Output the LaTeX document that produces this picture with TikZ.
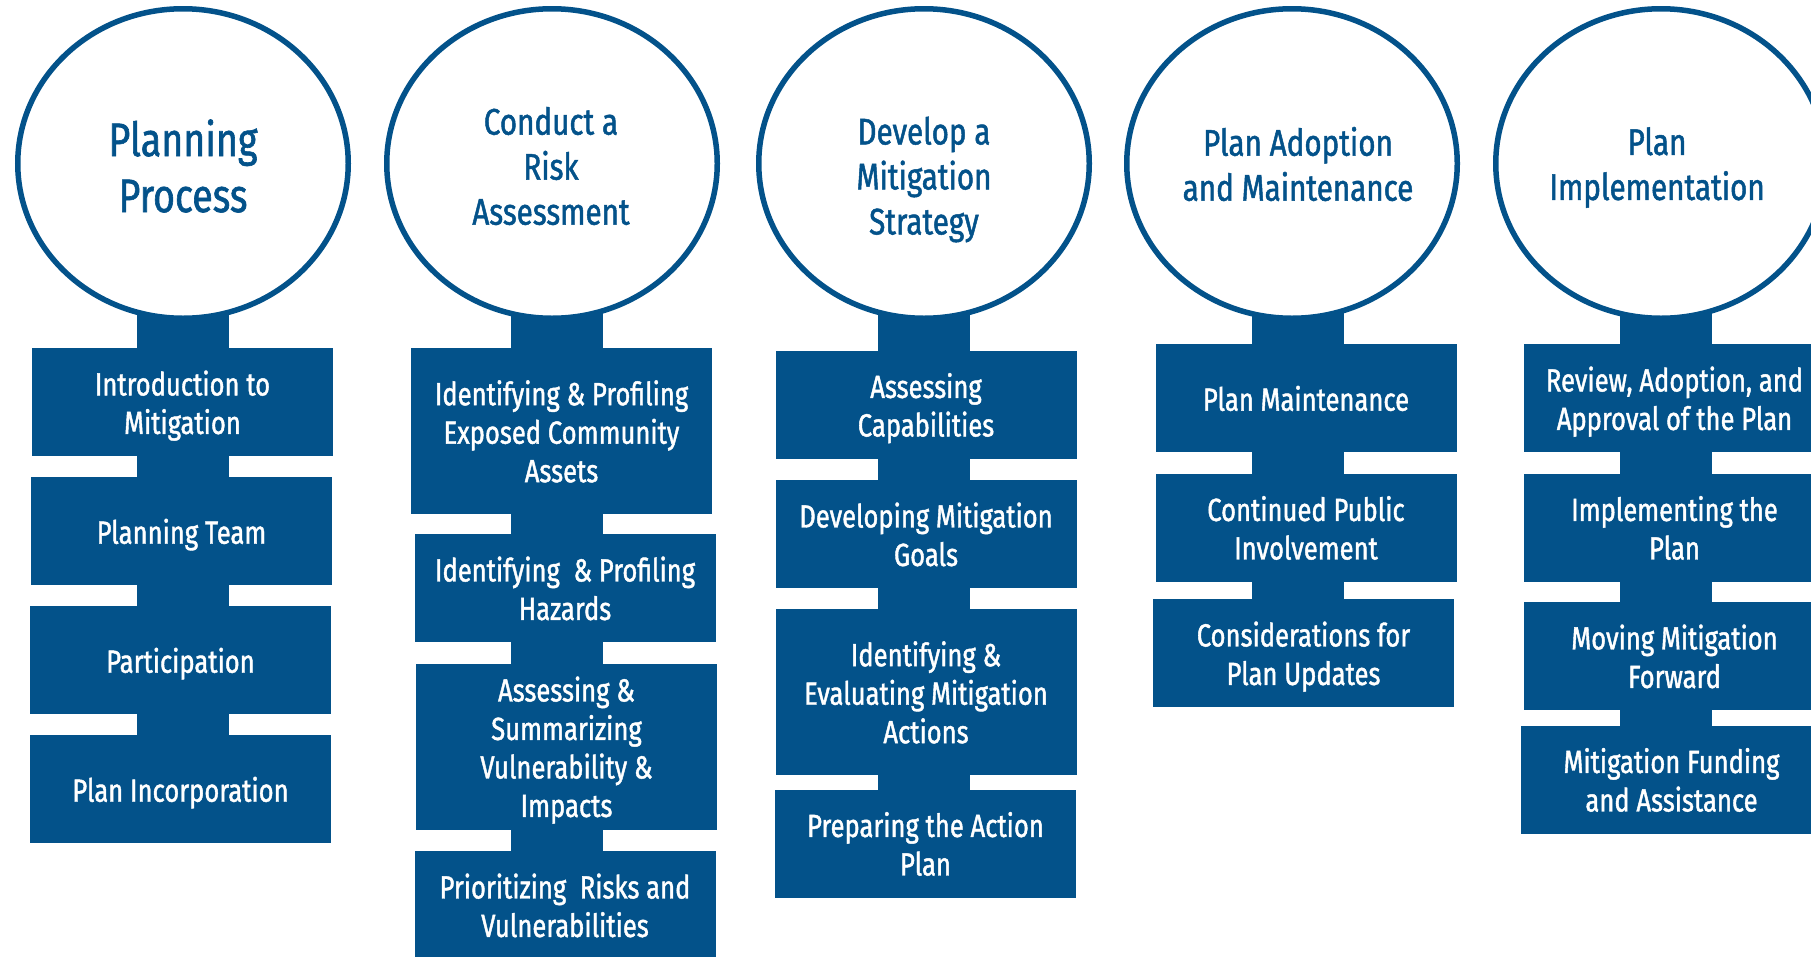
\documentclass[tikz,border=0pt]{standalone}
\usepackage{fontspec}
\setmainfont{Fira Sans}[FakeStretch=0.80,FakeBold=1.3]
\usetikzlibrary{shapes.geometric,backgrounds}
\definecolor{navy}{HTML}{03528A}
\newcommand{\boxtxt}[1]{\raisebox{-5pt}[\height][\depth]{\begin{tabular}{@{}c@{}}#1\end{tabular}}}
\begin{document}
\begin{tikzpicture}[x=1pt,y=-1pt,
  phase/.style={ellipse,draw=navy,line width=5.5pt,fill=white,minimum width=330.5pt,minimum height=309.5pt,inner sep=0pt},
  title/.style={text=navy,align=center,font=\fontsize{37}{45}\selectfont,inner sep=0pt},
  bigtitle/.style={text=navy,align=center,font=\fontsize{47}{56}\selectfont,inner sep=0pt},
  stepbox/.style={fill=navy,text=white,minimum width=301pt,minimum height=108pt,inner sep=0pt,font=\fontsize{32}{38.5}\selectfont},
  tallbox/.style={stepbox,minimum height=166pt},
  stem/.style={draw=navy,line width=92pt}]
\useasboundingbox (0,0) rectangle (1811,956);
\clip (0,0) rectangle (1811,956);
% ellipses
\node[phase] (c1) at (183,163.5) {};
\node[phase] (c2) at (552,163.5) {};
\node[phase] (c3) at (924,163.5) {};
\node[phase] (c4) at (1292,163.5) {};
\node[phase] (c5) at (1661,163.5) {};
\node[bigtitle] (t1) at (183,166) {Planning\\Process};
\node[title] (t2) at (551,166) {Conduct a\\Risk\\Assessment};
\node[title] (t3) at (924,179.5) {Develop a\\Mitigation\\Strategy};
\node[title] (t4) at (1298,164) {Plan Adoption\\and Maintenance};
\node[title] (t5) at (1657,167.5) {Plan\\Implementation};
% column 1
\node[stepbox] (b11) at (182.5,402) {\boxtxt{Introduction to\\Mitigation}};
\node[stepbox] (b12) at (181.5,531) {\boxtxt{Planning Team}};
\node[stepbox] (b13) at (180.5,660) {\boxtxt{Participation}};
\node[stepbox] (b14) at (180.5,789) {\boxtxt{Plan Incorporation}};
% column 2
\node[tallbox] (b21) at (561.5,431) {\boxtxt{Identifying \& Profiling\\Exposed Community\\Assets}};
\node[stepbox] (b22) at (565,588) {\boxtxt{Identifying\ \ \& Profiling\\Hazards}};
\node[tallbox] (b23) at (566.5,746.5) {\boxtxt{Assessing \&\\Summarizing\\Vulnerability \&\\Impacts}};
\node[stepbox] (b24) at (565,905) {\boxtxt{Prioritizing\ \ Risks and\\Vulnerabilities}};
% column 3
\node[stepbox] (b31) at (926,404.5) {\boxtxt{Assessing\\Capabilities}};
\node[stepbox] (b32) at (926,534) {\boxtxt{Developing Mitigation\\Goals}};
\node[tallbox] (b33) at (926,692) {\boxtxt{Identifying \&\\Evaluating Mitigation\\Actions}};
\node[stepbox] (b34) at (925.5,843.5) {\boxtxt{Preparing the Action\\Plan}};
% column 4
\node[stepbox] (b41) at (1306,398) {\boxtxt{Plan Maintenance}};
\node[stepbox] (b42) at (1306,527.5) {\boxtxt{Continued Public\\Involvement}};
\node[stepbox] (b43) at (1303.5,653) {\boxtxt{Considerations for\\Plan Updates}};
% column 5
\node[stepbox] (b51) at (1674.5,398) {\boxtxt{Review, Adoption, and\\Approval of the Plan}};
\node[stepbox] (b52) at (1674.5,527.5) {\boxtxt{Implementing the\\Plan}};
\node[stepbox] (b53) at (1674.5,656) {\boxtxt{Moving Mitigation\\Forward}};
\node[stepbox] (b54) at (1671.5,779.5) {\boxtxt{Mitigation Funding\\and Assistance}};
% stems
\begin{scope}[on background layer]
\draw[stem] (c1.center) -- (c1.center |- b14.center);
\draw[stem] ([xshift=5pt]c2.center) -- ([xshift=5pt]c2.center |- b24.center);
\draw[stem] (c3.center) -- (c3.center |- b34.center);
\draw[stem] ([xshift=6pt]c4.center) -- ([xshift=6pt]c4.center |- b43.center);
\draw[stem] ([xshift=5pt]c5.center) -- ([xshift=5pt]c5.center |- b54.center);
\end{scope}
\end{tikzpicture}
\end{document}
